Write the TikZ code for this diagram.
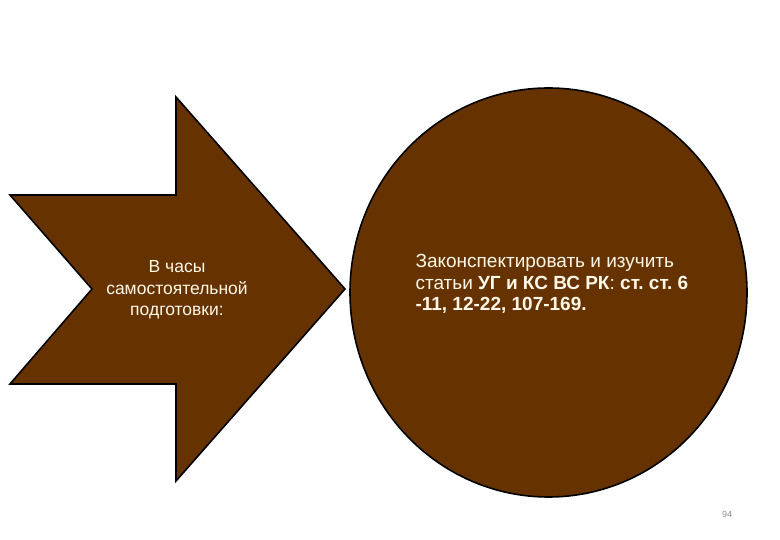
\documentclass[tikz,border=0pt]{standalone}
\usepackage{fontspec}
\setmainfont{Liberation Sans}
\usetikzlibrary{shapes.geometric}
\definecolor{brownfill}{HTML}{663300}
\definecolor{creamtext}{HTML}{FFF8E8}
\tikzstyle{brownshape} = [draw=black, line width=1.6pt, fill=brownfill]
\tikzstyle{blocktext} = [text=creamtext, font=\fontsize{17.5}{21.5}\selectfont]
\tikzstyle{pagenum} = [text=black!45, font=\fontsize{9}{10}\selectfont]
\frenchspacing

\begin{document}
\begin{tikzpicture}[x=1pt, y=-1pt]
		\useasboundingbox (0,0) rectangle (780,540);
		% notched arrow
		\draw [brownshape] (10,195) -- (176,195) -- (176,97) -- (345,289) -- (176,481) -- (176,384) -- (10,384) -- (92,289) -- cycle;
		\node (hours) [blocktext, align=center] at (177,290) {В часы\\самостоятельной\\подготовки:};
		% circle with task
		\node (task) [ellipse, brownshape, minimum width=397pt, minimum height=409pt] at (548.5,292.5) {};
		\node (tasktext) [blocktext, align=left, anchor=west, font=\fontsize{19}{21.5}\selectfont] at (412,284) {Законспектировать и изучить\\статьи \textbf{УГ и КС ВС РК}: \textbf{ст. ст. 6}\\\textbf{-11, 12-22, 107-169.}};
		\node (page) [pagenum] at (727,514) {94};
	\end{tikzpicture}
\end{document}
